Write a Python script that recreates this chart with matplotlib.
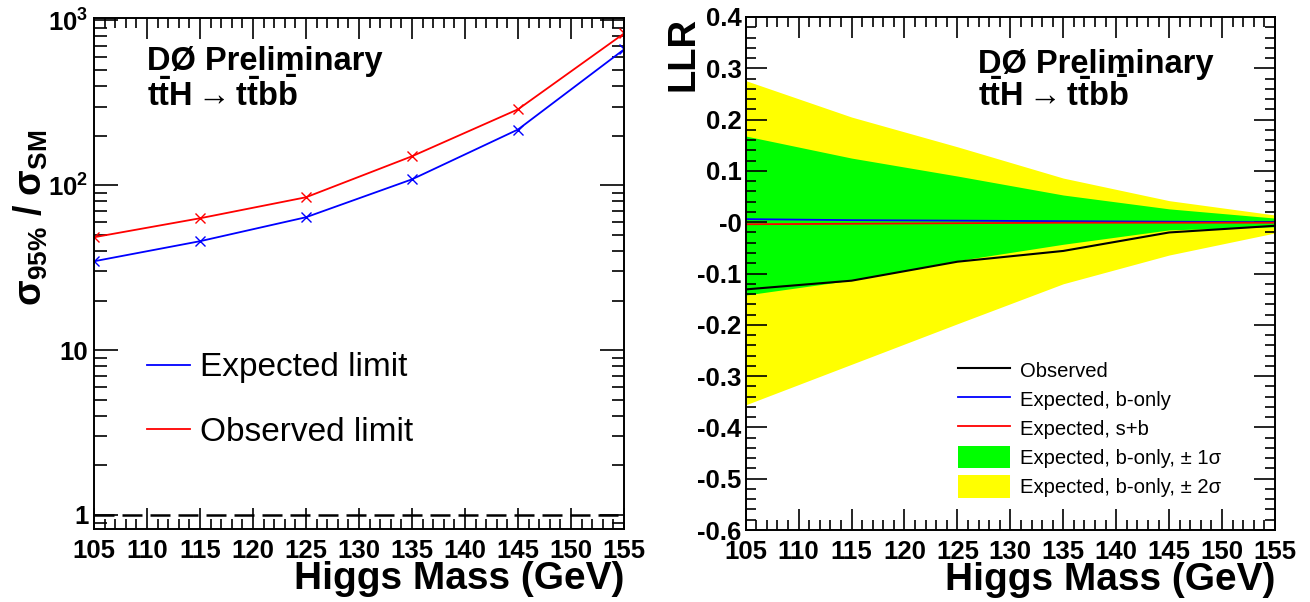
import matplotlib
matplotlib.use("Agg")
import matplotlib.pyplot as plt
from matplotlib.ticker import FixedLocator, MultipleLocator, LogLocator, NullFormatter
from matplotlib.patches import Patch
from matplotlib.lines import Line2D

plt.rcParams['font.family'] = ['Liberation Sans', 'DejaVu Sans']
plt.rcParams['mathtext.fontset'] = 'custom'
plt.rcParams['mathtext.rm'] = 'Liberation Sans'
plt.rcParams['mathtext.bf'] = 'Liberation Sans:bold'
plt.rcParams['mathtext.it'] = 'Liberation Sans:italic'
plt.rcParams['mathtext.sf'] = 'Liberation Sans'

# ---------------- data ----------------
masses = [105, 115, 125, 135, 145, 155]
expected_limit = [34.6, 45.8, 64.0, 108.7, 218.0, 667.0]
observed_limit = [48.4, 63.1, 84.6, 150.0, 289.0, 834.0]

llr_obs = [-0.131, -0.114, -0.077, -0.056, -0.020, -0.007]
llr_b = [0.006, 0.004, 0.003, 0.002, 0.001, 0.000]
llr_sb = [-0.004, -0.003, -0.002, -0.001, -0.001, -0.001]
band1_hi = [0.168, 0.125, 0.090, 0.053, 0.026, 0.008]
band1_lo = [-0.142, -0.113, -0.075, -0.043, -0.015, -0.009]
band2_hi = [0.276, 0.205, 0.147, 0.086, 0.042, 0.014]
band2_lo = [-0.356, -0.277, -0.198, -0.120, -0.064, -0.021]

xtick_vals = [105, 110, 115, 120, 125, 130, 135, 140, 145, 150, 155]
left_ytick_vals = [1, 10, 100, 1000]
left_ytick_labels = ['1', '10', r'$\mathbf{10^{2}}$', r'$\mathbf{10^{3}}$']
right_ytick_vals = [0.4, 0.3, 0.2, 0.1, 0.0, -0.1, -0.2, -0.3, -0.4, -0.5, -0.6]
right_ytick_labels = ['0.4', '0.3', '0.2', '0.1', '-0', '-0.1', '-0.2', '-0.3', '-0.4', '-0.5', '-0.6']

# ---------------- figure ----------------
W, H = 1310, 602
fig = plt.figure(figsize=(W / 100, H / 100), dpi=100)
axL = fig.add_axes([94 / W, 1 - 529 / H, 530 / W, 511 / H])
axR = fig.add_axes([745.7 / W, 1 - 530 / H, 529.3 / W, 513 / H])

TICKFS = 18.5
def style_axes(ax):
    for s in ax.spines.values():
        s.set_linewidth(1.4)
    ax.tick_params(which='both', direction='in', top=True, right=True,
                   width=1.2, labelsize=TICKFS)
    ax.tick_params(which='major', length=15)
    ax.tick_params(which='minor', length=7)
    ax.set_xlim(105, 155)
    ax.xaxis.set_major_locator(FixedLocator(xtick_vals))
    ax.xaxis.set_minor_locator(MultipleLocator(1))
    ax.set_xticklabels([str(v) for v in xtick_vals], fontweight='bold')
    ax.tick_params(axis='x', pad=7)

# ---------------- left panel ----------------
axL.set_yscale('log')
axL.plot(masses, expected_limit, color='#0000ff', lw=1.3, marker='x', ms=7, mew=1.0)
axL.plot(masses, observed_limit, color='#ff0000', lw=1.3, marker='x', ms=7, mew=1.0)
axL.plot([105, 155], [1, 1], color='black', lw=1.8, dashes=(8, 3.2))
style_axes(axL)
axL.set_ylim(0.822, 1035)
axL.yaxis.set_major_locator(FixedLocator(left_ytick_vals))
axL.set_yticklabels(left_ytick_labels, fontweight='bold')
axL.yaxis.set_minor_locator(LogLocator(base=10, subs=range(2, 10)))
axL.yaxis.set_minor_formatter(NullFormatter())
axL.tick_params(axis='y', pad=4)
axL.tick_params(axis='y', which='major', length=17)
axL.tick_params(axis='y', which='minor', length=9)

axL.set_xlabel('Higgs Mass (GeV)', fontsize=28, fontweight='bold', loc='right', labelpad=-1)
fig.text(31 / W, 1 - 218 / H,
         r'$\mathbf{\sigma_{95\%}}$ / $\mathbf{\sigma_{SM}}$', fontsize=27,
         fontweight='bold', rotation=90, ha='center', va='center')

axL.text(0.10, 0.898, 'DØ Preliminary', transform=axL.transAxes, fontsize=23.5,
         fontweight='bold', va='baseline')
axL.text(0.10, 0.828, r'$\mathbf{t\bar{t}H \rightarrow t\bar{t}b\bar{b}}$',
         transform=axL.transAxes, fontsize=23.5, va='baseline')

axL.legend(handles=[Line2D([], [], color='#0000ff', lw=1.3),
                    Line2D([], [], color='#ff0000', lw=1.3)],
           labels=['Expected limit', 'Observed limit'],
           loc='upper left', bbox_to_anchor=(0.075, 0.372), frameon=False,
           fontsize=24, handlelength=1.29, handletextpad=0.3, labelspacing=1.0,
           borderaxespad=0)

# ---------------- right panel ----------------
axR.fill_between(masses, band2_lo, band2_hi, color='#ffff00', lw=0)
axR.fill_between(masses, band1_lo, band1_hi, color='#00ff00', lw=0)
axR.plot(masses, llr_b, color='#0000ff', lw=1.3)
axR.plot(masses, llr_sb, color='#ff0000', lw=1.3)
axR.plot(masses, llr_obs, color='black', lw=1.5)
style_axes(axR)
axR.set_ylim(-0.6, 0.4)
axR.yaxis.set_major_locator(FixedLocator(right_ytick_vals))
axR.set_yticklabels(right_ytick_labels, fontweight='bold')
axR.yaxis.set_minor_locator(MultipleLocator(0.02))
axR.tick_params(axis='y', pad=3)

axR.set_xlabel('Higgs Mass (GeV)', fontsize=28, fontweight='bold', loc='right', labelpad=-1)
axR.set_ylabel('LLR', fontsize=27.5, fontweight='bold', loc='top', labelpad=-3)

axR.text(0.439, 0.891, 'DØ Preliminary', transform=axR.transAxes, fontsize=23.5,
         fontweight='bold', va='baseline')
axR.text(0.439, 0.827, r'$\mathbf{t\bar{t}H \rightarrow t\bar{t}b\bar{b}}$',
         transform=axR.transAxes, fontsize=23.5, va='baseline')

handlesR = [Line2D([], [], color='black', lw=1.5),
            Line2D([], [], color='#0000ff', lw=1.3),
            Line2D([], [], color='#ff0000', lw=1.3),
            Patch(facecolor='#00ff00', edgecolor='none'),
            Patch(facecolor='#ffff00', edgecolor='none')]
labelsR = ['Observed', 'Expected, b-only', 'Expected, s+b',
           'Expected, b-only, ± 1σ', 'Expected, b-only, ± 2σ']
axR.legend(handles=handlesR, labels=labelsR, loc='upper left',
           bbox_to_anchor=(0.386, 0.349), frameon=False, fontsize=14.6,
           handlelength=2.55, handleheight=1.3, handletextpad=0.5,
           labelspacing=0.345, borderaxespad=0)

fig.savefig('out.png', dpi=100)
